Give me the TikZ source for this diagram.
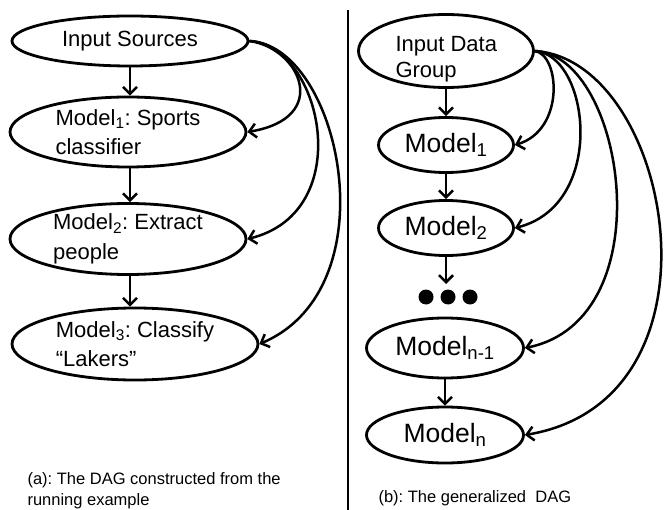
\documentclass[tikz,border=0pt]{standalone}
\usepackage{fontspec}
\setmainfont{Liberation Sans}
\usetikzlibrary{shapes.geometric,arrows.meta}
\frenchspacing
\begin{document}
\begin{tikzpicture}[x=1pt,y=-1pt,
  el/.style={draw,ellipse,line width=2.8pt,inner sep=0pt,align=left},
  lfont/.style={font=\fontsize{22}{29.5}\selectfont},
  rfont/.style={font=\fontsize{26.5}{30}\selectfont},
  arr/.style={line width=2.5pt,-{Straight Barb[length=7pt,width=14pt]}},
  captext/.style={anchor=base west,align=left,font=\fontsize{16.5}{21}\selectfont},
  dot/.style={circle,fill,inner sep=0pt,minimum size=15pt}]
\useasboundingbox (0,0) rectangle (668,510);
% divider
\draw[line width=2.4pt] (348,10) -- (348,510);
% left DAG
\node[el,lfont,minimum width=236pt,minimum height=50pt] (is) at (130,41) {Input Sources};
\node[el,lfont,minimum width=236pt,minimum height=70pt] (m1) at (128,132) {Model\textsubscript{1}: Sports\\classifier};
\node[el,lfont,minimum width=236pt,minimum height=71pt] (m2) at (128,239) {Model\textsubscript{2}: Extract\\people};
\node[el,lfont,minimum width=246pt,minimum height=72pt] (m3) at (135,344) {Model\textsubscript{3}: Classify\\“Lakers”};
\draw[arr] (is.south) -- (is.south |- m1.north);
\draw[arr] (is.south |- m1.south) -- (is.south |- m2.north);
\draw[arr] (is.south |- m2.south) -- (is.south |- m3.north);
\draw[arr] (is.east) .. controls (300,48) and (332,118) .. (m1.east);
\draw[arr] (is.east) .. controls (322,45) and (358,212) .. (m2.east);
\draw[arr] (is.east) .. controls (340,45) and (392,288) .. (m3.east);
\node[captext] (capa) at (24,505) {(a): The DAG constructed from the\\running example};
% right DAG
\node[el,minimum width=175pt,minimum height=73pt] (idg) at (446,51) {};
\node[lfont,anchor=base west,align=left,font=\fontsize{22}{26}\selectfont] (idgtext) at (392,78) {Input Data\\Group};
\node[el,rfont,minimum width=135pt,minimum height=55pt] (r1) at (446,145) {Model\textsubscript{1}};
\node[el,rfont,minimum width=135pt,minimum height=55pt] (r2) at (446,228) {Model\textsubscript{2}};
\node[dot] (d1) at (426,297) {};
\node[dot] (d2) at (448,297) {};
\node[dot] (d3) at (470,297) {};
\coordinate (dtop) at (446,284);
\node[el,rfont,minimum width=157pt,minimum height=60pt] (rn1) at (445,348) {Model\textsubscript{n-1}};
\node[el,rfont,minimum width=157pt,minimum height=56pt] (rn) at (445,435) {Model\textsubscript{n}};
\draw[arr] (idg) -- (r1);
\draw[arr] (r1) -- (r2);
\draw[arr] (r2) -- (dtop);
\draw[arr] (rn1) -- (rn);
\draw[arr] (idg.east) .. controls (560,55) and (565,130) .. (r1.east);
\draw[arr] (idg.east) .. controls (590,55) and (607,205) .. (r2.east);
\draw[arr] (idg.east) .. controls (625,55) and (665,320) .. (rn1.east);
\draw[arr] (idg.east) .. controls (672,60) and (735,400) .. (rn.east);
\node[captext] (capb) at (375,502) {(b): The generalized\ \ DAG};
\end{tikzpicture}
\end{document}
